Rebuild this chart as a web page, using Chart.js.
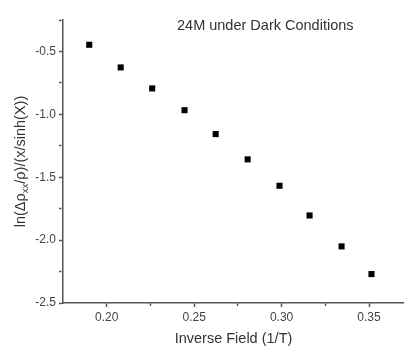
<!DOCTYPE html>
<html>
<head>
<meta charset="utf-8">
<script src="https://cdn.jsdelivr.net/npm/chart.js@4"></script>
<style>
  html, body { margin: 0; padding: 0; background: #fff; }
  #chart { display: block; }
</style>
</head>
<body>
<canvas id="chart" width="404" height="349"></canvas>
<script>
// data
const inverseField = [0.190, 0.208, 0.226, 0.2445, 0.2623, 0.2806, 0.2988, 0.316, 0.3343, 0.3514];
const lnRatio = [-0.447, -0.627, -0.794, -0.967, -1.157, -1.358, -1.568, -1.804, -2.050, -2.270];

const xMajorTicks = [0.20, 0.25, 0.30, 0.35];
const xMinorTicks = [0.225, 0.275, 0.325];
const yMajorTicks = [-2.5, -2.0, -1.5, -1.0, -0.5];
const yMinorTicks = [-2.25, -1.75, -1.25, -0.75, -0.25];

const chartTitle = "24M under Dark Conditions";
const xTitle = "Inverse Field (1/T)";
// y title pieces: [text, isSubscript]
const yTitleParts = [["ln(\u0394\u03c1", false], ["xx", true], ["/\u03c1)/(x/sinh(X))", false]];

const FONT = "'Liberation Sans', Arial, sans-serif";
const AXIS_COLOR = "#555";
const TEXT_COLOR = "#333";

const isIn = (arr, v) => arr.some(a => Math.abs(a - v) < 1e-9);

// draws the in-plot title and the y axis title (needs a subscript)
const textPlugin = {
    id: "texts",
    afterDraw(chart) {
        const ctx = chart.ctx;
        ctx.save();
        ctx.fillStyle = TEXT_COLOR;
        ctx.font = "14.5px " + FONT;
        ctx.textAlign = "left";
        ctx.textBaseline = "alphabetic";
        ctx.fillText(chartTitle, 177, 30);

        // rotated y title
        const cy = (chart.chartArea.top + chart.chartArea.bottom) / 2;
        ctx.translate(25, cy);
        ctx.rotate(-Math.PI / 2);
        const mainFont = "14.5px " + FONT;
        const subFont = "9.5px " + FONT;
        let total = 0;
        yTitleParts.forEach(([t, sub]) => {
            ctx.font = sub ? subFont : mainFont;
            total += ctx.measureText(t).width;
        });
        let x = -total / 2;
        yTitleParts.forEach(([t, sub]) => {
            ctx.font = sub ? subFont : mainFont;
            ctx.fillText(t, x, sub ? 3 : 0);
            x += ctx.measureText(t).width;
        });
        ctx.restore();
    }
};

new Chart(document.getElementById("chart"), {
    type: "scatter",
    data: {
        datasets: [{
            data: inverseField.map((x, i) => ({ x: x, y: lnRatio[i] })),
            pointStyle: "rect",
            pointRadius: 4.3,
            pointHoverRadius: 4.3,
            backgroundColor: "#000",
            borderColor: "#000",
            borderWidth: 0
        }]
    },
    options: {
        responsive: false,
        animation: false,
        layout: { autoPadding: false, padding: { left: 0, right: 0, top: 20, bottom: 0 } },
        plugins: {
            legend: { display: false },
            tooltip: { enabled: false },
            title: { display: false }
        },
        scales: {
            x: {
                type: "linear",
                min: 0.175,
                max: 0.37,
                afterBuildTicks: (s) => {
                    s.ticks = [...xMajorTicks, ...xMinorTicks].sort((a, b) => a - b).map(v => ({ value: v }));
                },
                afterFit: (s) => {
                    s.height = 46;
                    s.paddingLeft = 0;
                    s.paddingRight = 0;
                },
                ticks: {
                    autoSkip: false,
                    maxRotation: 0,
                    padding: 3,
                    color: "#444",
                    font: { family: FONT, size: 12 },
                    callback: (v) => isIn(xMajorTicks, v) ? v.toFixed(2) : ""
                },
                grid: {
                    drawOnChartArea: false,
                    drawTicks: true,
                    tickLength: 4,
                    tickColor: AXIS_COLOR,
                    tickWidth: 1.5,
                    tickBorderDash: (c) => isIn(xMinorTicks, c.tick.value) ? [2.5, 10] : []
                },
                border: { display: true, color: AXIS_COLOR, width: 1.5 },
                title: {
                    display: true,
                    text: xTitle,
                    color: TEXT_COLOR,
                    font: { family: FONT, size: 14.5 },
                    padding: { top: 0, bottom: 1 }
                }
            },
            y: {
                type: "linear",
                min: -2.5,
                max: -0.25,
                afterBuildTicks: (s) => {
                    s.ticks = [...yMajorTicks, ...yMinorTicks].sort((a, b) => a - b).map(v => ({ value: v }));
                },
                afterFit: (s) => {
                    s.width = 63;
                    s.paddingTop = 0;
                    s.paddingBottom = 0;
                },
                ticks: {
                    autoSkip: false,
                    padding: 3,
                    color: "#444",
                    font: { family: FONT, size: 12 },
                    callback: (v) => isIn(yMajorTicks, v) ? v.toFixed(1) : ""
                },
                grid: {
                    drawOnChartArea: false,
                    drawTicks: true,
                    tickLength: 4,
                    tickColor: AXIS_COLOR,
                    tickWidth: 1.5,
                    tickBorderDash: (c) => isIn(yMinorTicks, c.tick.value) ? [2.5, 10] : []
                },
                border: { display: true, color: AXIS_COLOR, width: 1.5 },
                title: { display: false }
            }
        }
    },
    plugins: [textPlugin]
});
</script>
</body>
</html>
